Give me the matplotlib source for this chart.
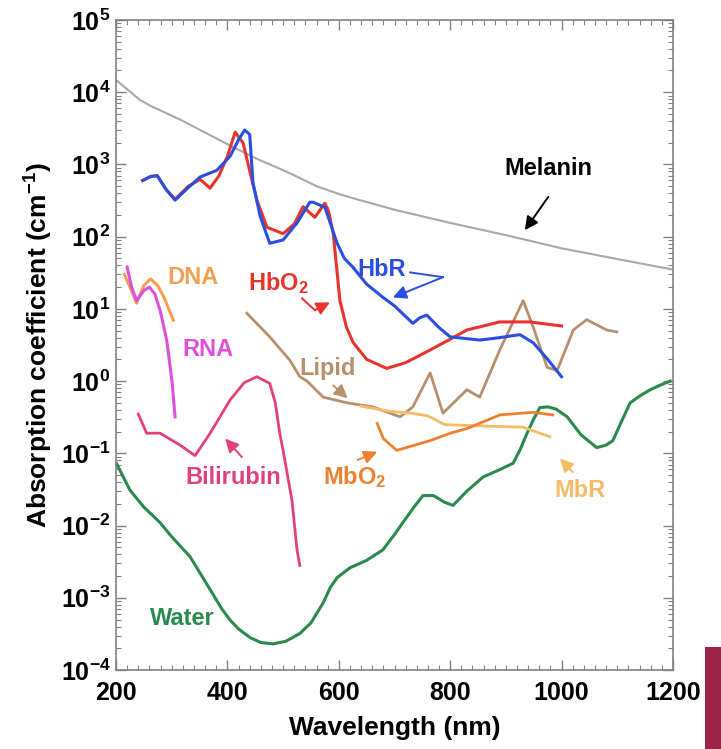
import numpy as np
import matplotlib
matplotlib.use("Agg")
import matplotlib.pyplot as plt
from matplotlib import rcParams
from matplotlib.patches import Rectangle
from matplotlib.ticker import LogLocator, MultipleLocator

rcParams['font.family'] = 'sans-serif'
rcParams['font.sans-serif'] = ['Liberation Sans', 'DejaVu Sans']
rcParams['font.weight'] = 'bold'
rcParams['axes.labelweight'] = 'bold'
rcParams['mathtext.default'] = 'regular'
rcParams['lines.solid_joinstyle'] = 'round'

# absorption spectra (wavelength nm, coefficient cm^-1)
mel_wl  = [200, 220, 243, 265, 291, 320, 351, 380, 410, 435, 458, 490, 518, 560, 600, 638, 700,
           800, 900, 1000, 1100, 1200]
mel_val = [14800, 11000, 7800, 6300, 5100, 4000, 3000, 2300, 1740, 1400, 1150, 900, 720, 500, 390,
           320, 236, 155, 105, 69, 49, 35]

hbr_wl  = [248, 262, 274, 290, 306, 330, 351, 381, 405, 420, 431, 440, 446, 459, 476, 500, 525, 548,
           554, 575, 597, 610, 625, 650, 679, 700, 733, 745, 758, 780, 800, 853, 889, 925, 949, 975, 1000]
hbr_val = [600, 680, 700, 450, 320, 480, 670, 830, 1300, 2200, 3000, 2600, 550, 190, 81, 90, 155, 300,
           300, 255, 81, 50, 38, 22, 14.5, 11, 6.3, 7.5, 8.2, 5.5, 4.1, 3.7, 4.0, 4.4, 3.4, 2.0, 1.15]

hbo2_wl  = [248, 262, 274, 290, 306, 330, 351, 369, 385, 400, 414, 428, 441, 453, 471, 500, 520, 536,
            557, 575, 581, 590, 602, 614, 626, 650, 686, 720, 764, 800, 830, 889, 943, 1000]
hbo2_val = [600, 680, 700, 450, 330, 500, 620, 470, 700, 1300, 2800, 2000, 760, 320, 135, 110, 150, 260,
            185, 290, 235, 112, 13, 5.5, 3.4, 2.0, 1.5, 1.8, 2.7, 3.8, 5.1, 6.6, 6.6, 5.8]

dna_wl  = [215, 225, 237, 250, 262, 275, 287, 297, 303]
dna_val = [30, 20, 12, 21, 26, 21, 14, 9, 7]

rna_wl  = [220, 228, 237, 250, 260, 270, 280, 291, 301, 306]
rna_val = [38, 20, 13, 18, 20, 16, 9, 3.7, 0.93, 0.32]

bili_wl  = [240, 255, 279, 315, 342, 369, 405, 430, 453, 476, 486, 494, 500, 516, 525, 530]
bili_val = [0.35, 0.19, 0.19, 0.13, 0.093, 0.19, 0.55, 0.95, 1.15, 0.93, 0.5, 0.19, 0.11, 0.022,
            0.0046, 0.0028]

water_wl  = [201, 225, 250, 279, 300, 333, 369, 390, 405, 420, 441, 460, 482, 505, 530, 550, 572,
             585, 597, 620, 650, 679, 700, 715, 735, 751, 770, 790, 805, 830, 859, 890, 913, 925,
             938, 950, 961, 975, 990, 1010, 1035, 1063, 1080, 1092, 1105, 1123, 1140, 1159, 1180, 1195]
water_val = [0.072, 0.031, 0.018, 0.011, 0.007, 0.0037, 0.0013, 0.0007, 0.00049, 0.00037, 0.00028,
             0.00024, 0.00023, 0.00025, 0.00032, 0.00045, 0.00085, 0.0014, 0.0019, 0.0026, 0.0033,
             0.0046, 0.0075, 0.011, 0.018, 0.026, 0.026, 0.021, 0.019, 0.03, 0.047, 0.06, 0.073, 0.11,
             0.19, 0.3, 0.43, 0.44, 0.41, 0.32, 0.18, 0.12, 0.13, 0.15, 0.25, 0.5, 0.62, 0.76, 0.9, 1.0]

lipid_wl  = [435, 476, 512, 530, 543, 572, 615, 661, 710, 733, 764, 787, 830, 853, 889, 931, 949,
             974, 992, 1021, 1045, 1081, 1099]
lipid_val = [8.7, 4.1, 1.95, 1.15, 1.0, 0.6, 0.5, 0.44, 0.32, 0.44, 1.3, 0.36, 0.76, 0.6, 2.7, 13,
             5.6, 1.55, 1.4, 5.1, 7.1, 5.1, 4.8]

mbo2_wl  = [669, 680, 704, 764, 800, 830, 889, 949, 984]
mbo2_val = [0.26, 0.16, 0.11, 0.15, 0.19, 0.22, 0.34, 0.37, 0.34]

mbr_wl  = [640, 692, 730, 760, 790, 850, 931, 961, 979]
mbr_val = [0.45, 0.38, 0.36, 0.33, 0.25, 0.24, 0.23, 0.19, 0.17]

C_MEL = '#a8a8a8'
C_HBR = '#2a4fe0'
C_HBO2 = '#e8342c'
C_DNA = '#f0a050'
C_RNA = '#dd50dd'
C_BILI = '#e2407c'
C_WATER = '#2a8a4e'
C_LIPID = '#b88f6c'
C_MBO2 = '#ee8030'
C_MBR = '#f5bb66'

fig = plt.figure(figsize=(7.21, 7.49), dpi=100)
ax = fig.add_axes([116/721, 1 - 670/749, 557/721, 650/749])

ax.plot(mel_wl, mel_val, color=C_MEL, lw=1.5)
ax.plot(water_wl, water_val, color=C_WATER, lw=2.2)
ax.plot(lipid_wl, lipid_val, color=C_LIPID, lw=2.0)
ax.plot(mbr_wl, mbr_val, color=C_MBR, lw=2.0)
ax.plot(mbo2_wl, mbo2_val, color=C_MBO2, lw=2.0)
ax.plot(bili_wl, bili_val, color=C_BILI, lw=2.0)
ax.plot(dna_wl, dna_val, color=C_DNA, lw=2.2)
ax.plot(rna_wl, rna_val, color=C_RNA, lw=2.2)
ax.plot(hbo2_wl, hbo2_val, color=C_HBO2, lw=2.2)
ax.plot(hbr_wl, hbr_val, color=C_HBR, lw=2.2)

ax.set_yscale('log')
ax.set_xlim(200, 1200)
ax.set_ylim(1e-4, 1e5)

fs_lab = 17

def arrow(x0, y0, x1, y1, c):
    ax.annotate('', xy=(x1, y1), xytext=(x0, y0),
                arrowprops=dict(arrowstyle='-|>', color=c, lw=1.4, mutation_scale=20,
                                shrinkA=0, shrinkB=0))

ax.text(976, 890, 'Melanin', color='black', fontsize=fs_lab, ha='center', va='center')
arrow(976, 355, 934, 123, 'black')

ax.text(676, 35, 'HbR', color=C_HBR, fontsize=fs_lab, ha='center', va='center')
ax.plot([728, 787], [32, 27.5], color=C_HBR, lw=1.4)
arrow(787, 27.5, 697, 14.4, C_HBR)

ax.text(491, 23, 'HbO$_2$', color=C_HBO2, fontsize=fs_lab, ha='center', va='center')
ax.plot([534, 557], [14, 9.6], color=C_HBO2, lw=1.4)
arrow(557, 9.6, 584, 12.3, C_HBO2)

ax.text(338, 27, 'DNA', color=C_DNA, fontsize=fs_lab, ha='center', va='center')
ax.text(365, 2.7, 'RNA', color=C_RNA, fontsize=fs_lab, ha='center', va='center')

ax.text(410, 0.047, 'Bilirubin', color=C_BILI, fontsize=fs_lab, ha='center', va='center')
arrow(426, 0.089, 396, 0.16, C_BILI)

ax.text(320, 0.00052, 'Water', color=C_WATER, fontsize=fs_lab, ha='center', va='center')

ax.text(579, 1.5, 'Lipid', color=C_LIPID, fontsize=fs_lab, ha='center', va='center')
arrow(590, 0.87, 616, 0.58, C_LIPID)

ax.text(629, 0.047, 'MbO$_2$', color=C_MBO2, fontsize=fs_lab, ha='center', va='center')
arrow(634, 0.081, 669, 0.105, C_MBO2)

ax.text(1033, 0.031, 'MbR', color=C_MBR, fontsize=fs_lab, ha='center', va='center')
arrow(1020, 0.055, 997, 0.085, C_MBR)

ax.xaxis.set_major_locator(MultipleLocator(200))
ax.xaxis.set_minor_locator(MultipleLocator(20))
ax.yaxis.set_major_locator(LogLocator(base=10, numticks=20))
ax.yaxis.set_minor_locator(LogLocator(base=10, subs=np.arange(2, 10), numticks=20))

for s in ax.spines.values():
    s.set_color('#808080')
    s.set_linewidth(1.2)
ax.tick_params(which='both', direction='in', top=True, right=True, colors='#808080',
               labelcolor='black', labelsize=18)
ax.tick_params(which='major', length=7, width=1.0)
ax.tick_params(which='minor', length=3.5, width=0.8)
ax.tick_params(axis='x', pad=8)
ax.tick_params(axis='y', pad=4)

ax.set_xlabel('Wavelength (nm)', fontsize=19, labelpad=8)
ax.set_ylabel('Absorption coefficient (cm$^{-1}$)', fontsize=19, labelpad=4)

fig.patches.append(Rectangle((705/721, 0), 16/721, 102/749, transform=fig.transFigure,
                             facecolor='#9b2348', edgecolor='none'))

plt.savefig('out.png', dpi=100)
